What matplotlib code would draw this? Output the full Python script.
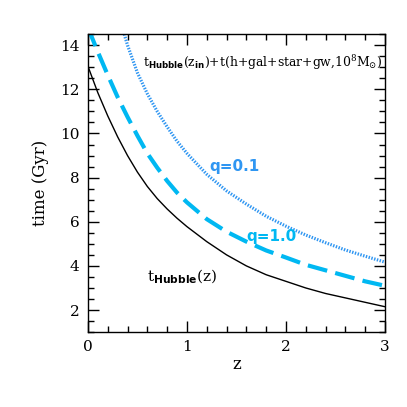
import matplotlib
matplotlib.use("Agg")
import matplotlib.pyplot as plt
from matplotlib.ticker import MultipleLocator

# t_Hubble(z), black solid
z_hub = [0.0, 0.1, 0.2, 0.3, 0.4, 0.5, 0.6, 0.7, 0.8, 0.9, 1.0, 1.2, 1.4, 1.5,
         1.6, 1.8, 2.0, 2.2, 2.4, 2.6, 2.8, 3.0]
t_hub = [13.05, 11.85, 10.8, 9.85, 9.0, 8.25, 7.6, 7.05, 6.58, 6.16, 5.78, 5.1, 4.5, 4.25,
         4.0, 3.6, 3.3, 3.0, 2.75, 2.55, 2.35, 2.15]

# q=1.0, dashed
z_q1 = [0.0, 0.1, 0.2, 0.3, 0.4, 0.5, 0.6, 0.7, 0.8, 0.9, 1.0, 1.2, 1.4, 1.6,
        1.8, 2.0, 2.2, 2.4, 2.6, 2.8, 3.0]
t_q1 = [14.8, 13.7, 12.65, 11.65, 10.75, 9.9, 9.1, 8.45, 7.85, 7.32, 6.88, 6.12, 5.55, 5.1,
        4.7, 4.38, 4.05, 3.8, 3.55, 3.3, 3.1]

# q=0.1, dotted
z_q01 = [0.35, 0.4, 0.5, 0.6, 0.7, 0.8, 0.9, 1.0, 1.2, 1.4, 1.6, 1.8, 2.0, 2.2,
         2.4, 2.6, 2.8, 3.0]
t_q01 = [14.75, 14.0, 12.75, 11.8, 11.0, 10.3, 9.65, 9.1, 8.15, 7.4, 6.8, 6.25, 5.8, 5.4,
         5.05, 4.72, 4.44, 4.17]

c_dot = "#2f96f2"
c_dash = "#00b8f2"

plt.rcParams["font.family"] = ["DejaVu Serif"]
plt.rcParams["mathtext.fontset"] = "custom"
plt.rcParams["mathtext.rm"] = "DejaVu Serif"
plt.rcParams["mathtext.it"] = "DejaVu Serif:italic"
plt.rcParams["mathtext.bf"] = "DejaVu Sans:bold"

fig = plt.figure(figsize=(4.07, 4.07), dpi=100)
ax = fig.add_axes([0.216, 0.184, 0.730, 0.732])

ax.plot(z_hub, t_hub, color="black", lw=1.0)
ax.plot(z_q1, t_q1, color=c_dash, lw=3.0, dashes=(4.8, 2.0))
ax.plot(z_q01, t_q01, color=c_dot, lw=2.3, dashes=(0.45, 0.45))

ax.set_xlim(0, 3)
ax.set_ylim(1, 14.5)
ax.xaxis.set_major_locator(MultipleLocator(1))
ax.xaxis.set_minor_locator(MultipleLocator(0.2))
ax.yaxis.set_major_locator(MultipleLocator(2))
ax.yaxis.set_minor_locator(MultipleLocator(0.5))
ax.tick_params(which="both", direction="in", top=True, right=True, labelsize=11, width=1.0)
ax.tick_params(which="major", length=8, pad=6)
ax.tick_params(which="minor", length=4)
for s in ax.spines.values():
    s.set_linewidth(1.0)

ax.set_xlabel("z", fontsize=12, labelpad=1)
ax.set_ylabel("time (Gyr)", fontsize=12, labelpad=8)

ax.text(0.56, 13.2,
        r"t$_{\mathbf{Hubble}}$(z$_{\mathbf{in}}$)+t(h+gal+star+gw,10$^{8}$M$_{\odot}$)",
        fontsize=8.9, va="center", ha="left")
ax.text(1.23, 8.5, "q=0.1", color=c_dot, fontsize=11, fontweight="bold",
        family="DejaVu Sans", va="center")
ax.text(1.6, 5.33, "q=1.0", color=c_dash, fontsize=11, fontweight="bold",
        family="DejaVu Sans", va="center")
ax.text(0.6, 3.55, r"t$_{\mathbf{Hubble}}$(z)", fontsize=11, va="center")

fig.savefig("out.png", dpi=100)
